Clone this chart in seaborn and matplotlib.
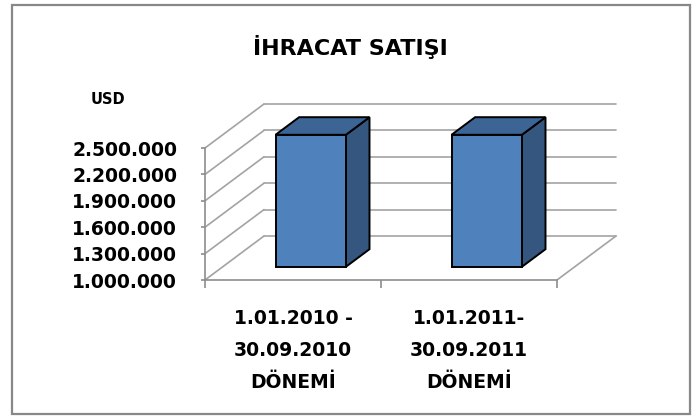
import numpy as np
import pandas as pd
import matplotlib
matplotlib.use("Agg")
import matplotlib.pyplot as plt
import seaborn as sns
from matplotlib.transforms import Affine2D, IdentityTransform
from matplotlib.patches import Polygon, Rectangle
from matplotlib.lines import Line2D

# ---- data ----
title = "İHRACAT SATIŞI"
unit_label = "USD"
categories = ["1.01.2010 -\n30.09.2010\nDÖNEMİ", "1.01.2011-\n30.09.2011\nDÖNEMİ"]
values = [2500000, 2500000]
y_ticks = [1000000, 1300000, 1600000, 1900000, 2200000, 2500000]
y_tick_labels = ["1.000.000", "1.300.000", "1.600.000", "1.900.000", "2.200.000", "2.500.000"]

# ---- style ----
sns.set_theme(style="white")
plt.rcParams["font.family"] = ["DejaVu Sans"]
plt.rcParams["font.weight"] = "bold"

W, H = 697, 416
DX, DY = 59, 44            # depth vector in pixels
GRID = "#A3A3A3"
FRONT = "#4F81BD"
TOP = "#3C6494"
SIDE = "#34567F"

fig = plt.figure(figsize=(W / 100, H / 100), dpi=100)
fig.patch.set_facecolor("white")
ax = fig.add_axes([205 / W, (H - 280) / H, 352 / W, 132 / H])
ax.set_facecolor("none")

df = pd.DataFrame({"period": categories, "usd": values})
sns.barplot(data=df, x="period", y="usd", ax=ax, color=FRONT, width=0.4,
            saturation=1, edgecolor="black", linewidth=1.4, zorder=5)

ylo, yhi = y_ticks[0], y_ticks[-1]
ax.set_xlim(-0.5, 1.5)
ax.set_ylim(ylo, yhi)


def T(d):
    return ax.transData + Affine2D().translate(d * DX, d * DY)


def P(x, y, d):
    px, py = ax.transData.transform((x, y))
    return (px + d * DX, py + d * DY)


# walls / gridlines
for yv in y_ticks:
    ax.add_line(Line2D([-0.5, 1.5], [yv, yv], transform=T(1.0), color=GRID,
                       lw=1.2, clip_on=False, zorder=1))
    a, b = P(-0.5, yv, 0), P(-0.5, yv, 1)
    ax.add_line(Line2D([a[0], b[0]], [a[1], b[1]], transform=IdentityTransform(),
                       color=GRID, lw=1.2, clip_on=False, zorder=1))
a, b = P(1.5, ylo, 0), P(1.5, ylo, 1)
ax.add_line(Line2D([a[0], b[0]], [a[1], b[1]], transform=IdentityTransform(),
                   color=GRID, lw=1.2, clip_on=False, zorder=1))

# 3D bars
d0, d1 = 0.3, 0.7
for p, v in zip(ax.patches, values):
    x0 = p.get_x()
    x1 = x0 + p.get_width()
    p.set_y(ylo)
    p.set_height(v - ylo)
    p.set_transform(T(d0))
    p.set_clip_on(False)
    side = [P(x1, ylo, d0), P(x1, ylo, d1), P(x1, v, d1), P(x1, v, d0)]
    top = [P(x0, v, d0), P(x1, v, d0), P(x1, v, d1), P(x0, v, d1)]
    for poly, col in ((side, SIDE), (top, TOP)):
        ax.add_patch(Polygon(np.array(poly), closed=True, facecolor=col,
                             edgecolor="black", lw=1.4, transform=IdentityTransform(),
                             clip_on=False, zorder=4))

# axes
for s in ["top", "right"]:
    ax.spines[s].set_visible(False)
for s in ["left", "bottom"]:
    ax.spines[s].set_color("#8C8C8C")
    ax.spines[s].set_linewidth(1.2)
    ax.spines[s].set_zorder(2)

ax.set_yticks(y_ticks)
ax.set_yticklabels(y_tick_labels, fontsize=13.5, fontweight="bold", color="black")
ax.tick_params(axis="y", direction="out", length=3, width=1.2, color="#8C8C8C",
               left=True, pad=17)
ax.set_xticks([0, 1])
ax.set_xticklabels(categories, fontsize=13.5, fontweight="bold", color="black",
                   linespacing=1.85)
ax.set_xticks([-0.5, 0.5, 1.5], minor=True)
ax.tick_params(axis="x", which="major", length=0, pad=21)
ax.tick_params(axis="x", which="minor", direction="out", length=6, width=1.2,
               color="#8C8C8C", bottom=True)
ax.set_xlabel("")
ax.set_ylabel("")

fig.text(350 / W, 1 - 47 / H, title, ha="center", va="center",
         fontsize=16, fontweight="bold", color="black")
fig.text(108 / W, 1 - 100 / H, unit_label, ha="center", va="center",
         fontsize=10.5, fontweight="bold", color="black")

fig.add_artist(Rectangle((12 / W, 1 - 414 / H), (690 - 12) / W, (414 - 5) / H,
                         transform=fig.transFigure, fill=False,
                         edgecolor="#888888", lw=1.6))

fig.savefig("out.png", dpi=100, facecolor="white")
